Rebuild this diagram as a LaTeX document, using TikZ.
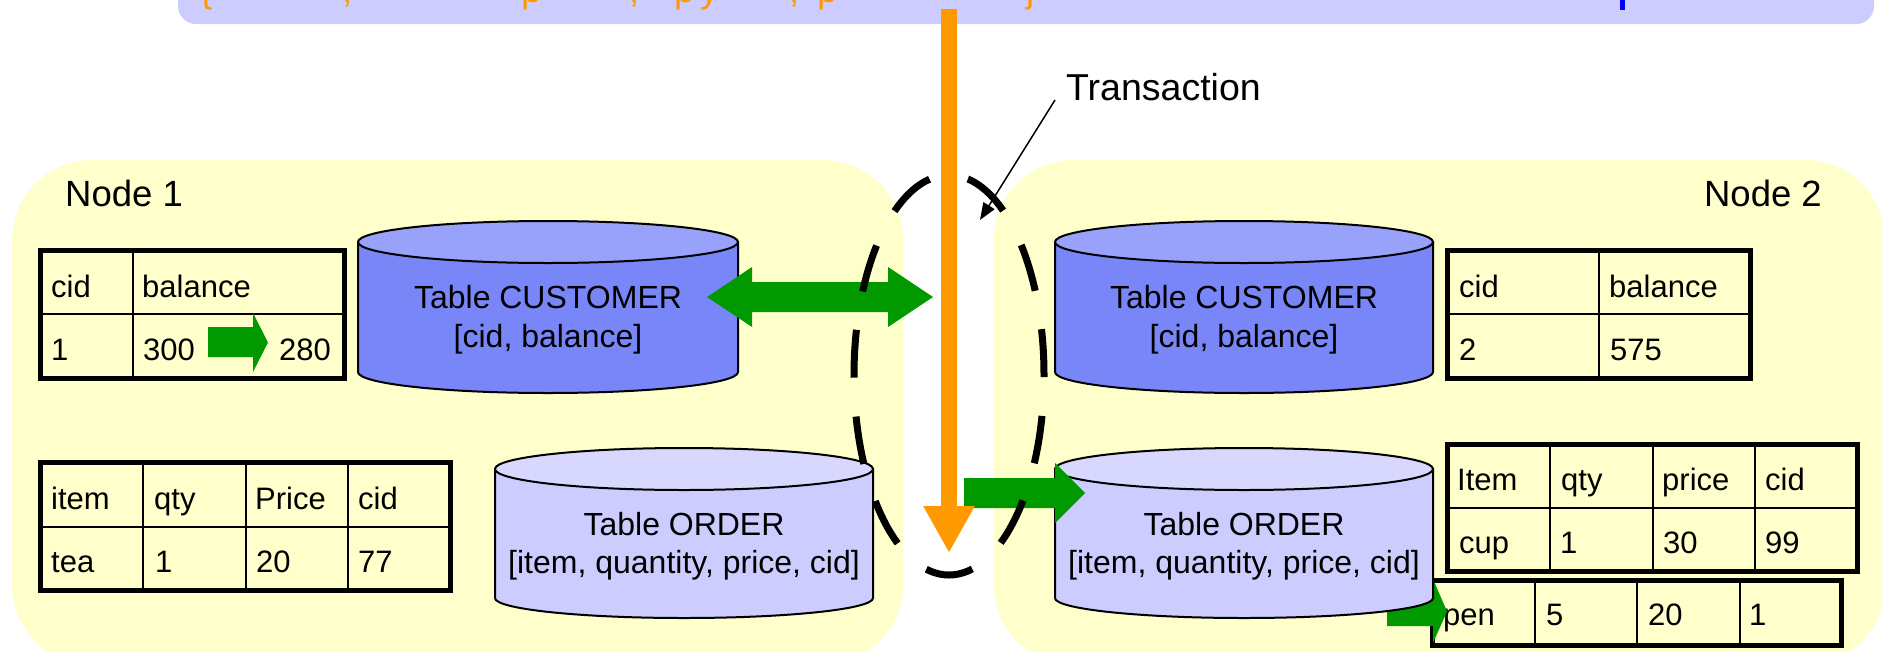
\documentclass[tikz,border=0pt]{standalone}
\usepackage{fontspec}
\setmainfont{Liberation Sans}
\usepackage{tikz}
\usetikzlibrary{arrows.meta}

\definecolor{sitebg}{HTML}{FFFFCC}
\definecolor{stmtbg}{HTML}{CCCCFF}
\definecolor{txorange}{HTML}{FF9900}
\definecolor{movegreen}{HTML}{009900}
\definecolor{custbody}{HTML}{7886F8}
\definecolor{custtop}{HTML}{98A2FA}
\definecolor{ordbody}{HTML}{CCCCFF}
\definecolor{ordtop}{HTML}{D8D8FF}

\begin{document}
\begin{tikzpicture}[x=1pt, y=-1pt,
  cell/.style={anchor=base west, inner sep=0pt, font=\fontsize{31}{37}\selectfont},
  cyltxt/.style={anchor=base, inner sep=0pt, font=\fontsize{32}{38}\selectfont},
  bigtxt/.style={inner sep=0pt, font=\fontsize{36.5}{44}\selectfont},
  grid/.style={line width=2pt},
  frame/.style={line width=5pt},
  rim/.style={line width=2pt}]

\useasboundingbox (0,0) rectangle (1881,651);

% the two sites
\fill[sitebg, rounded corners=80pt] (12,160) rectangle (903,665);
\fill[sitebg, rounded corners=80pt] (994,160) rectangle (1885,665);
\node[bigtxt, anchor=base west] (site1) at (65,206) {Node 1};
\node[bigtxt, anchor=base east] (site2) at (1822,206) {Node 2};

% statement bar, only its lower edge is inside
\fill[stmtbg, rounded corners=18pt] (178,-40) rectangle (1874,24);
\foreach \gx/\gc [count=\i] in {200/{\{}, 342/{,}, 521/p, 629/{,}, 674/p, 700/y,
    789/{,}, 817/p, 1026/j}
  \node[bigtxt, anchor=base west, text=txorange] (frag\i) at (\gx,2.5) {\gc};
\draw[blue, line width=5pt] (1622.5,-5) -- (1622.5,10);

% Node 1: customer rows
\draw[grid]
  (133,250.5) -- (133,378.5)
  (40.5,314) -- (344.5,314);
\draw[frame] (40.5,250.5) rectangle (344.5,378.5);
\node[cell] (c1h1) at (51,297) {cid};
\node[cell] (c1h2) at (142,297) {balance};
\node[cell] (c1a) at (51,360) {1};
\node[cell] (c1b) at (143,360) {300};
\node[cell] (c1c) at (279,360) {280};
\fill[movegreen] (208,327) -- (253,327) -- (253,313) -- (268,342.5)
  -- (253,372) -- (253,357) -- (208,357) -- cycle;

% Node 1: order rows
\draw[grid]
  (143,462.5) -- (143,590.5)
  (246,462.5) -- (246,590.5)
  (348,462.5) -- (348,590.5)
  (40.5,527) -- (450.5,527);
\draw[frame] (40.5,462.5) rectangle (450.5,590.5);
\node[cell] (o1h1) at (51,509) {item};
\node[cell] (o1h2) at (154,509) {qty};
\node[cell] (o1h3) at (255,509) {Price};
\node[cell] (o1h4) at (358,509) {cid};
\node[cell] (o1a) at (51,572) {tea};
\node[cell] (o1b) at (155,572) {1};
\node[cell] (o1c) at (256,572) {20};
\node[cell] (o1d) at (358,572) {77};

% Node 2: customer rows
\draw[grid]
  (1599,250.5) -- (1599,378.5)
  (1447.5,314) -- (1750.5,314);
\draw[frame] (1447.5,250.5) rectangle (1750.5,378.5);
\node[cell] (c2h1) at (1459,297) {cid};
\node[cell] (c2h2) at (1609,297) {balance};
\node[cell] (c2a) at (1459,360) {2};
\node[cell] (c2b) at (1610,360) {575};

% Node 2: order rows
\draw[grid]
  (1550,444.5) -- (1550,571.5)
  (1653,444.5) -- (1653,571.5)
  (1755,444.5) -- (1755,571.5)
  (1447.5,508) -- (1857.5,508);
\draw[frame] (1447.5,444.5) rectangle (1857.5,571.5);
\node[cell] (o2h1) at (1457,490) {Item};
\node[cell] (o2h2) at (1561,490) {qty};
\node[cell] (o2h3) at (1662,490) {price};
\node[cell] (o2h4) at (1765,490) {cid};
\node[cell] (o2a) at (1459,553) {cup};
\node[cell] (o2b) at (1560,553) {1};
\node[cell] (o2c) at (1663,553) {30};
\node[cell] (o2d) at (1765,553) {99};

% the inserted row
\draw[frame, fill=sitebg] (1432.5,580.5) rectangle (1841.5,645.5);
\draw[grid]
  (1535,580.5) -- (1535,645.5)
  (1637,580.5) -- (1637,645.5)
  (1740,580.5) -- (1740,645.5);
\node[cell] (newa) at (1443,625) {pen};
\node[cell] (newb) at (1546,625) {5};
\node[cell] (newc) at (1648,625) {20};
\node[cell] (newd) at (1749,625) {1};
\fill[movegreen] (1387,597) -- (1433,597) -- (1433,579) -- (1447,611.5)
  -- (1433,643) -- (1433,626) -- (1387,626) -- cycle;

% tables on disk
\begin{scope}[shift={(358,242)}]
  \filldraw[rim, fill=custbody] (0,0) -- (0,130) arc[start angle=180, end angle=0, x radius=190, y radius=21] -- (380,0) -- cycle;
  \filldraw[rim, fill=custtop] (190,0) ellipse [x radius=190, y radius=21];
\end{scope}
\node[cyltxt] (cust1) at (548,308) {Table CUSTOMER};
\node[cyltxt] (cust1f) at (548,347) {[cid, balance]};

\begin{scope}[shift={(1055,242)}]
  \filldraw[rim, fill=custbody] (0,0) -- (0,130) arc[start angle=180, end angle=0, x radius=189, y radius=21] -- (378,0) -- cycle;
  \filldraw[rim, fill=custtop] (189,0) ellipse [x radius=189, y radius=21];
\end{scope}
\node[cyltxt] (cust2) at (1244,308) {Table CUSTOMER};
\node[cyltxt] (cust2f) at (1244,347) {[cid, balance]};

\begin{scope}[shift={(495,469)}]
  \filldraw[rim, fill=ordbody] (0,0) -- (0,129) arc[start angle=180, end angle=0, x radius=189, y radius=20] -- (378,0) -- cycle;
  \filldraw[rim, fill=ordtop] (189,0) ellipse [x radius=189, y radius=21];
\end{scope}
\node[cyltxt] (ord1) at (684,535) {Table ORDER};
\node[cyltxt] (ord1f) at (684,573) {[item, quantity, price, cid]};

\begin{scope}[shift={(1055,469)}]
  \filldraw[rim, fill=ordbody] (0,0) -- (0,129) arc[start angle=180, end angle=0, x radius=189, y radius=20] -- (378,0) -- cycle;
  \filldraw[rim, fill=ordtop] (189,0) ellipse [x radius=189, y radius=21];
\end{scope}
\node[cyltxt] (ord2) at (1244,535) {Table ORDER};
\node[cyltxt] (ord2f) at (1244,573) {[item, quantity, price, cid]};

% data moving between the sites
\fill[movegreen] (707,297) -- (752,267) -- (752,282) -- (888,282) -- (888,267)
  -- (933,297) -- (888,327) -- (888,312) -- (752,312) -- (752,327) -- cycle;
\fill[movegreen] (964,478) -- (1055,478) -- (1055,463) -- (1085,493)
  -- (1055,523) -- (1055,508) -- (964,508) -- cycle;

% transaction boundary
\draw[line width=7pt, dash pattern=on 48pt off 38.9pt, dash phase=67.5pt]
  (949,175) arc[start angle=-90, end angle=270, x radius=95, y radius=200];

\coordinate (stmtfoot) at (949,9);
\coordinate (stmttip) at (949,553);
\draw[txorange, line width=16pt, -{Triangle[length=47pt, width=48pt]}] (stmtfoot) -- (stmttip);

\node[bigtxt, anchor=base west, font=\fontsize{37.5}{45}\selectfont] (trans) at (1066,100) {Transaction};
\coordinate (transfoot) at (1055,100);
\coordinate (transtip) at (980,220);
\draw[line width=1.5pt, -{Triangle[length=17pt, width=13pt]}] (transfoot) -- (transtip);
\end{tikzpicture}
\end{document}
